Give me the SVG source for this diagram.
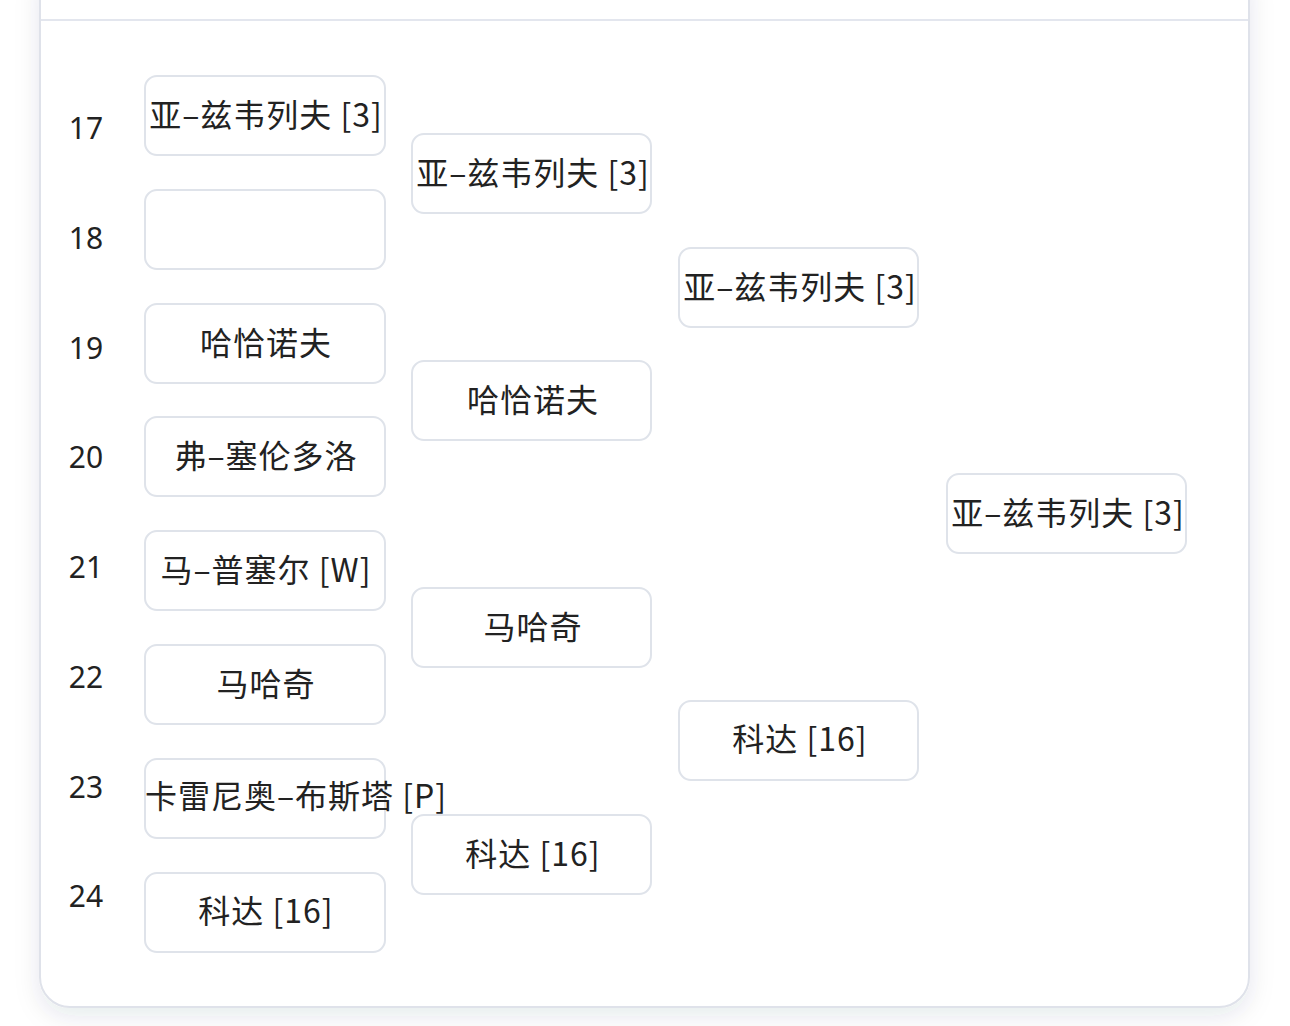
<svg xmlns="http://www.w3.org/2000/svg" width="1290" height="1026" viewBox="0 0 1290 1026">
  <defs>
    <filter id="shadow" x="-10%" y="-10%" width="120%" height="120%">
      <feDropShadow dx="0" dy="8" stdDeviation="12" flood-color="#1e2a50" flood-opacity="0.10"/>
    </filter>
    <style>
      .box { fill: #ffffff; stroke: #dfe3ea; stroke-width: 2; }
      .name { font-family: "Noto Sans CJK SC", "Noto Sans", sans-serif; font-size: 32px; letter-spacing: 1px; fill: #222222; text-anchor: middle; }
      .seed { font-family: "Noto Sans", "Noto Sans CJK SC", sans-serif; font-size: 30px; fill: #222222; text-anchor: middle; }
    </style>
  </defs>
  <rect x="0" y="0" width="1290" height="1026" fill="#ffffff"/>
  <g id="card">
    <rect x="40" y="-40" width="1209" height="1047" rx="30" ry="30" fill="#ffffff" stroke="#dfe2ea" stroke-width="2" filter="url(#shadow)"/>
    <line x1="41" y1="20" x2="1248" y2="20" stroke="#e3e6ee" stroke-width="2"/>
  </g>
  <g id="seeds">
    <text class="seed" x="86" y="139">17</text>
    <text class="seed" x="86" y="249">18</text>
    <text class="seed" x="86" y="359">19</text>
    <text class="seed" x="86" y="468">20</text>
    <text class="seed" x="86" y="578">21</text>
    <text class="seed" x="86" y="688">22</text>
    <text class="seed" x="86" y="798">23</text>
    <text class="seed" x="86" y="907">24</text>
  </g>
  <g id="connectors"></g>
  <g id="r1-1"><rect class="box" x="145" y="76" width="240" height="79" rx="12"/><text class="name" x="266" y="127">亚–兹韦列夫 [3]</text></g>
  <g id="r1-2"><rect class="box" x="145" y="190" width="240" height="79" rx="12"/></g>
  <g id="r1-3"><rect class="box" x="145" y="304" width="240" height="79" rx="12"/><text class="name" x="266" y="355">哈恰诺夫</text></g>
  <g id="r1-4"><rect class="box" x="145" y="417" width="240" height="79" rx="12"/><text class="name" x="266" y="468">弗–塞伦多洛</text></g>
  <g id="r1-5"><rect class="box" x="145" y="531" width="240" height="79" rx="12"/><text class="name" x="266" y="582">马–普塞尔 [W]</text></g>
  <g id="r1-6"><rect class="box" x="145" y="645" width="240" height="79" rx="12"/><text class="name" x="266" y="696">马哈奇</text></g>
  <g id="r1-7"><rect class="box" x="145" y="759" width="240" height="79" rx="12"/><text class="name" x="296" y="808">卡雷尼奥–布斯塔 [P]</text></g>
  <g id="r1-8"><rect class="box" x="145" y="873" width="240" height="79" rx="12"/><text class="name" x="266" y="923">科达 [16]</text></g>
  <g id="r2-1"><rect class="box" x="412" y="134" width="239" height="79" rx="12"/><text class="name" x="533" y="185">亚–兹韦列夫 [3]</text></g>
  <g id="r2-2"><rect class="box" x="412" y="361" width="239" height="79" rx="12"/><text class="name" x="533" y="412">哈恰诺夫</text></g>
  <g id="r2-3"><rect class="box" x="412" y="588" width="239" height="79" rx="12"/><text class="name" x="533" y="639">马哈奇</text></g>
  <g id="r2-4"><rect class="box" x="412" y="815" width="239" height="79" rx="12"/><text class="name" x="533" y="866">科达 [16]</text></g>
  <g id="r3-1"><rect class="box" x="679" y="248" width="239" height="79" rx="12"/><text class="name" x="800" y="299">亚–兹韦列夫 [3]</text></g>
  <g id="r3-2"><rect class="box" x="679" y="701" width="239" height="79" rx="12"/><text class="name" x="800" y="751">科达 [16]</text></g>
  <g id="r4-1"><rect class="box" x="947" y="474" width="239" height="79" rx="12"/><text class="name" x="1068" y="525">亚–兹韦列夫 [3]</text></g>
</svg>
